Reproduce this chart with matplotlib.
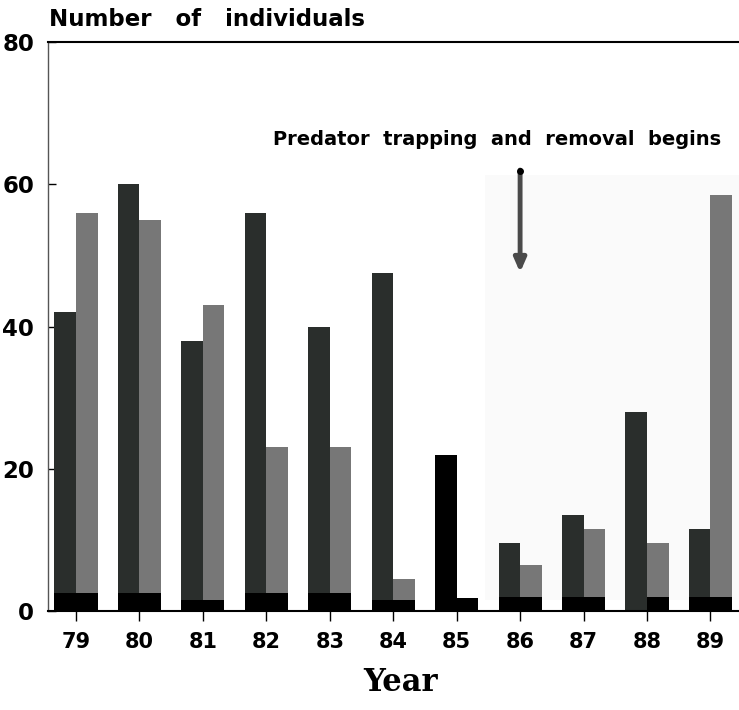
import matplotlib
matplotlib.use("Agg")
import matplotlib.pyplot as plt
import numpy as np

years = ['79', '80', '81', '82', '83', '84', '85', '86', '87', '88', '89']
dark_vals = [42, 60, 38, 56, 40, 47.5, 22, 9.5, 13.5, 28, 11.5]
gray_vals = [56, 55, 43, 23, 23, 4.5, 1.8, 6.5, 11.5, 9.5, 58.5]
dark_base = [2.5, 2.5, 1.5, 2.5, 2.5, 1.5, 22, 2.0, 2.0, 0, 2.0]
gray_base = [2.5, 2.5, 1.5, 2.5, 2.5, 1.5, 1.8, 2.0, 2.0, 2.0, 2.0]
y_ticks = [0, 20, 40, 60, 80]

fig = plt.figure(figsize=(7.39, 7.10), dpi=100)
ax = fig.add_axes([0.065, 0.1394, 0.935, 0.8014])

x = np.arange(len(years))
w = 0.34

# faint background tint of the scanned panel
ax.axvspan(6.44, 10.5, ymin=1.5 / 80, ymax=61.3 / 80, color='#fafafa', zorder=0, lw=0)

ax.bar(x - w / 2, dark_vals, width=w, color='#2a2e2c', zorder=2, lw=0)
ax.bar(x + w / 2, gray_vals, width=w, color='#777777', zorder=2, lw=0)
ax.bar(x - w / 2, dark_base, width=w, color='black', zorder=3, lw=0)
ax.bar(x + w / 2, gray_base, width=w, color='black', zorder=3, lw=0)

ax.set_xlim(-0.44, 10.45)
ax.set_ylim(0, 80)

ax.set_xticks(x)
ax.set_xticklabels(years, fontsize=15, fontweight='bold')
ax.set_yticks(y_ticks)
ax.set_yticklabels([str(v) for v in y_ticks], fontsize=16.5, fontweight='bold')
ax.tick_params(axis='x', direction='out', length=7, width=1, pad=8)
ax.tick_params(axis='y', direction='in', length=6, width=1, pad=10)

ax.spines['right'].set_visible(False)
ax.spines['left'].set_color('#555555')
ax.spines['left'].set_linewidth(1.0)
ax.spines['top'].set_linewidth(1.5)
ax.spines['bottom'].set_linewidth(1.5)

fig.text(0.066, 0.973, 'Number   of   individuals', fontsize=16.5, fontweight='bold',
         ha='left', va='center')
ax.set_xlabel('Year', fontsize=22, fontweight='bold', family='DejaVu Serif')
ax.xaxis.set_label_coords(0.51, -0.098)

ax.text(6.63, 66.3, 'Predator  trapping  and  removal  begins', fontsize=14,
        fontweight='bold', ha='center', va='center')
ax.annotate('', xy=(7, 47.6), xytext=(7, 62),
            arrowprops=dict(arrowstyle='-|>,head_width=0.35,head_length=0.8',
                            color='#4a4a4a', lw=3.5, shrinkA=0, shrinkB=0))
ax.plot([7], [61.8], marker='o', color='black', markersize=4, zorder=5)

fig.savefig('out.png', dpi=100)
